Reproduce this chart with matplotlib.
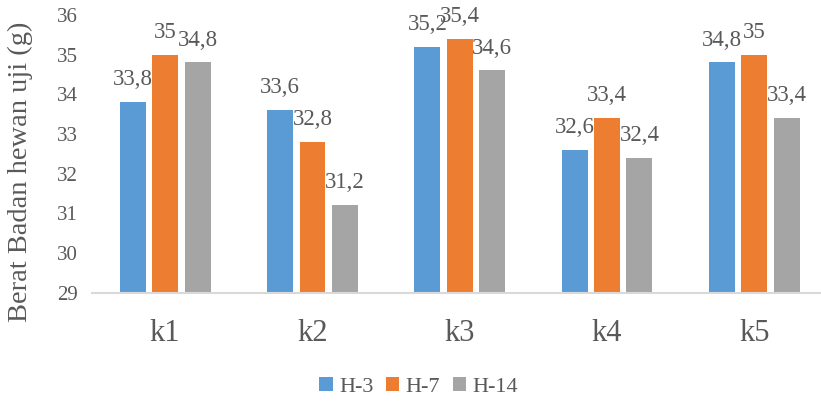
import matplotlib.pyplot as plt
import numpy as np

# Berat badan hewan uji per kelompok
kelompok = ["k1", "k2", "k3", "k4", "k5"]
h3 = [33.8, 33.6, 35.2, 32.6, 34.8]
h7 = [35.0, 32.8, 35.4, 33.4, 35.0]
h14 = [34.8, 31.2, 34.6, 32.4, 33.4]
seri = ["H-3", "H-7", "H-14"]
warna = ["#5b9bd5", "#ed7d31", "#a5a5a5"]

plt.rcParams['font.family'] = ['Liberation Serif', 'DejaVu Serif']
teks = "#595959"

fig = plt.figure(figsize=(8.21, 4.01), dpi=100)
# area plot sedikit melewati tepi kanan gambar
ax = fig.add_axes([0.1115, 0.27, 0.897, 0.693])

x = np.arange(len(kelompok))
lebar = 0.176
jarak = 0.22
for i, (nilai, nama, c) in enumerate(zip([h3, h7, h14], seri, warna)):
    pos = x + (i - 1) * jarak
    ax.bar(pos, [v - 29 for v in nilai], lebar, bottom=29, color=c, label=nama)
    for px, v in zip(pos, nilai):
        ax.text(px, v + 0.3, f"{v:g}".replace(".", ","), ha="center", va="bottom",
                fontsize=16.5, color=teks)

ax.set_ylim(29, 36)
ax.set_xlim(-0.5, len(kelompok) - 0.5)
ax.set_xticks(x)
ax.set_xticklabels(kelompok, fontsize=22, color=teks)
ax.set_yticks(range(29, 37))
ax.tick_params(axis="y", labelsize=15, labelcolor=teks, length=0, pad=10)
ax.tick_params(axis="x", length=0, pad=19)
ax.set_ylabel("Berat Badan hewan uji (g)", fontsize=20.5, color=teks)
ax.yaxis.set_label_coords(-0.08, 0.435)

for s in ["top", "right", "left"]:
    ax.spines[s].set_visible(False)
ax.spines["bottom"].set_color("#d9d9d9")
ax.spines["bottom"].set_linewidth(1.5)

fig.legend(loc="center", bbox_to_anchor=(0.51, 0.035), ncol=3, frameon=False,
           fontsize=16, handlelength=0.6, handleheight=0.6, handletextpad=0.3,
           columnspacing=0.55, labelcolor=teks)

fig.savefig("out.png", dpi=100)
